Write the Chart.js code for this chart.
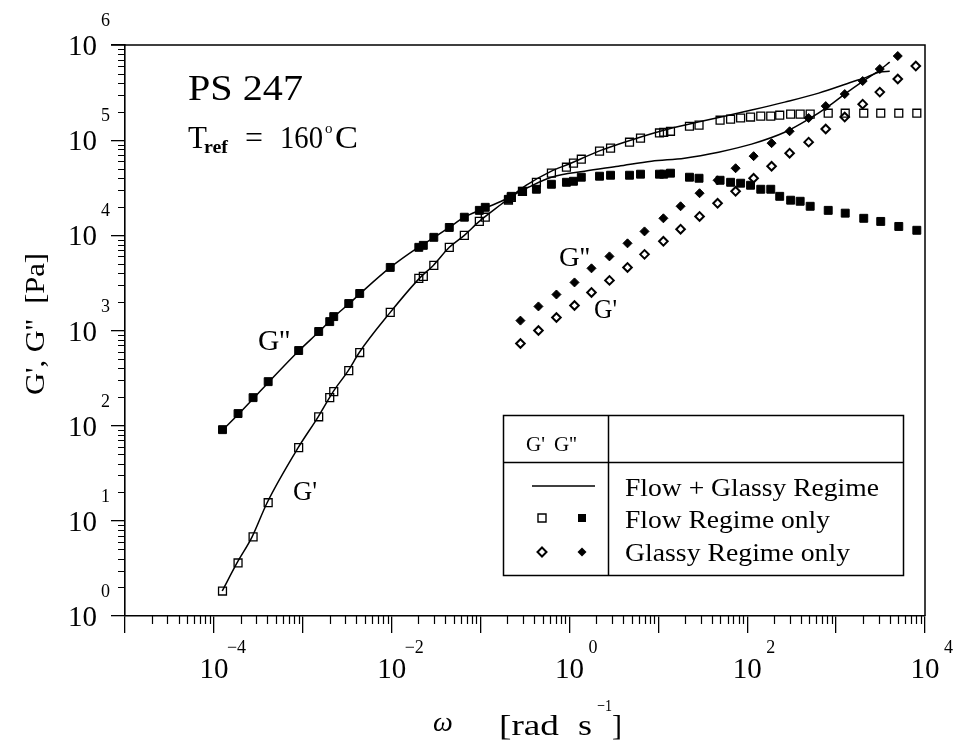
<!DOCTYPE html>
<html>
<head>
<meta charset="utf-8">
<title>PS 247 – G', G'' master curve</title>
<script src="https://cdn.jsdelivr.net/npm/chart.js@4.4.1/dist/chart.umd.min.js"></script>
<style>
  html, body { margin: 0; padding: 0; background: #fff; }
  #wrap { width: 953px; height: 740px; position: relative; }
</style>
</head>
<body>
<div id="wrap"><canvas id="c" width="953" height="740"></canvas></div>
<script>
// ---------------- DATA ----------------
// Flow regime only: shared frequencies for G' (open squares) and G'' (filled squares)
const flowOmega = [1.25e-4, 1.87e-4, 2.76e-4, 4.08e-4, 8.99e-4, 1.51e-3, 2.01e-3, 2.23e-3, 3.29e-3, 4.37e-3,
  9.64e-3, 2.02e-2, 2.27e-2, 2.98e-2, 4.45e-2, 6.57e-2, 9.69e-2, 0.113, 0.206, 0.222,
  0.296, 0.425, 0.627, 0.925, 1.11, 1.36, 2.18, 2.90, 4.74, 6.30,
  10.3, 11.5, 13.7, 22.4, 28.7, 49.5, 65.0, 84.3, 109, 142,
  184, 232, 308, 394, 511, 815, 1266, 2046, 3177, 5070, 8090];
const flowGp = [1.83, 3.61, 6.79, 15.5, 58.7, 124, 197, 228, 379, 587,
  1550, 3530, 3700, 4830, 7480, 1.00e4, 1.40e4, 1.55e4, 2.34e4, 2.51e4,
  2.90e4, 3.61e4, 4.50e4, 5.20e4, 5.73e4, 6.31e4, 7.66e4, 8.24e4, 9.52e4, 1.05e5,
  1.19e5, 1.21e5, 1.24e5, 1.40e5, 1.44e5, 1.62e5, 1.66e5, 1.71e5, 1.75e5, 1.79e5,
  1.79e5, 1.83e5, 1.88e5, 1.88e5, 1.88e5, 1.92e5, 1.92e5, 1.92e5, 1.92e5, 1.92e5, 1.92e5];
const flowGpp = [90.8, 134, 197, 290, 616, 976, 1240, 1400, 1920, 2450,
  4600, 7480, 7850, 9530, 1.21e4, 1.55e4, 1.83e4, 1.97e4, 2.39e4, 2.57e4,
  2.90e4, 3.05e4, 3.44e4, 3.61e4, 3.70e4, 4.08e4, 4.18e4, 4.28e4, 4.28e4, 4.39e4,
  4.39e4, 4.39e4, 4.50e4, 4.08e4, 3.98e4, 3.79e4, 3.61e4, 3.53e4, 3.36e4, 3.05e4,
  3.05e4, 2.57e4, 2.34e4, 2.28e4, 2.02e4, 1.83e4, 1.71e4, 1.51e4, 1.40e4, 1.24e4, 1.13e4];

// Glassy regime only: G' (open diamonds), G'' (filled diamonds)
const glassyOmega = [0.281, 0.448, 0.714, 1.14, 1.77, 2.82, 4.50, 6.99, 11.4, 17.8,
  29.1, 46.4, 74.0, 118, 188, 300, 491, 764, 1250, 1990, 3100, 4940, 7880];
const glassyGp = [730, 1000, 1370, 1830, 2510, 3360, 4600, 6310, 8650, 1.16e4,
  1.58e4, 2.17e4, 2.90e4, 3.98e4, 5.32e4, 7.30e4, 9.53e4, 1.31e5, 1.75e5, 2.39e5,
  3.20e5, 4.39e5, 6.01e5];
const glassyGpp = [1270, 1790, 2390, 3200, 4500, 6010, 8240, 1.10e4, 1.51e4, 2.02e4,
  2.77e4, 3.79e4, 5.07e4, 6.79e4, 9.30e4, 1.24e5, 1.71e5, 2.28e5, 3.05e5, 4.18e5,
  5.59e5, 7.66e5];

// Flow + Glassy regime (solid lines)
const lineGpOmega = [1.24e-4, 1.82e-4, 2.69e-4, 3.97e-4, 8.87e-4, 1.49e-3, 2.20e-3, 3.25e-3, 4.32e-3, 9.64e-3,
  2.05e-2, 2.94e-2, 4.45e-2, 6.57e-2, 9.69e-2, 0.171, 0.328, 0.627, 0.975, 2.29,
  5.40, 13.0, 30.7, 112, 264, 637, 1500, 2210, 3100, 4010];
const lineGp = [1.83, 3.61, 6.79, 15.5, 58.7, 124, 228, 379, 587, 1550,
  3530, 4830, 7480, 1.0e4, 1.40e4, 2.12e4, 3.36e4, 4.72e4, 5.59e4, 7.85e4,
  1.03e5, 1.31e5, 1.58e5, 2.07e5, 2.51e5, 3.12e5, 4.08e5, 4.60e5, 5.2e5, 5.3e5];
const lineGppOmega = [1.27e-4, 1.92e-4, 2.84e-4, 4.18e-4, 9.10e-4, 1.53e-3, 2.26e-3, 3.33e-3, 4.43e-3, 9.64e-3,
  1.99e-2, 3.02e-2, 4.45e-2, 6.57e-2, 9.69e-2, 0.171, 0.345, 0.627, 1.48, 3.56,
  8.38, 19.7, 47.6, 112, 264, 491, 826, 1250, 1940, 3100, 4010];
const lineGpp = [90.8, 134, 197, 290, 616, 976, 1400, 1920, 2450, 4600,
  7480, 9530, 1.21e4, 1.55e4, 1.83e4, 2.28e4, 3.20e4, 4.08e4, 4.72e4, 5.32e4,
  6.01e4, 6.47e4, 7.48e4, 9.08e4, 1.21e5, 1.66e5, 2.28e5, 3.05e5, 4.08e5, 5.46e5, 6.62e5];

// Axes / ticks
const xMin = 1e-5, xMax = 1e4, yMin = 1, yMax = 1e6;
const xMajorTicks = [1e-5, 1e-4, 1e-3, 1e-2, 1e-1, 1, 10, 100, 1000, 1e4];
const yMajorTicks = [1, 10, 100, 1000, 1e4, 1e5, 1e6];
const xLabelExponents = [-4, -2, 0, 2, 4];
const yLabelExponents = [0, 1, 2, 3, 4, 5, 6];
const minorMantissas = [2, 3, 4, 5, 6, 7, 8, 9];

// Texts
const sampleName = 'PS 247';
const xTitleSymbol = 'ω';
const yTitle = "G', G''  [Pa]";
const legendRows = ['Flow + Glassy Regime', 'Flow Regime only', 'Glassy Regime only'];

// ---------------- helpers ----------------
const SERIF = '"Liberation Serif", "Times New Roman", Times, serif';
const pts = (xs, ys) => ys.map((v, i) => ({ x: xs[i], y: v }));

function txt(ctx, s, x, y, size, o = {}) {
  ctx.save();
  ctx.font = (o.italic ? 'italic ' : '') + (o.bold ? 'bold ' : '') + size + 'px ' + SERIF;
  ctx.fillStyle = '#000';
  ctx.textAlign = 'left';
  ctx.textBaseline = 'alphabetic';
  const w = ctx.measureText(s).width;
  const sx = o.w ? o.w / w : 1;
  let left = x;
  if (o.align === 'center') left = x - (w * sx) / 2;
  else if (o.align === 'right') left = x - w * sx;
  ctx.translate(left, y);
  ctx.scale(sx, 1);
  ctx.fillText(s, 0, 0);
  ctx.restore();
}

function marker(ctx, kind, cx, cy) {
  ctx.save();
  ctx.strokeStyle = '#000'; ctx.fillStyle = '#000';
  ctx.beginPath();
  if (kind === 'sq' || kind === 'sqf') {
    ctx.rect(cx - 4, cy - 4, 8, 8);
  } else {
    ctx.moveTo(cx, cy - 4.5); ctx.lineTo(cx + 4.5, cy); ctx.lineTo(cx, cy + 4.5); ctx.lineTo(cx - 4.5, cy); ctx.closePath();
  }
  if (kind === 'sqf' || kind === 'dif') ctx.fill();
  else { ctx.lineWidth = kind === 'di' ? 2 : 1.4; ctx.fillStyle = '#fff'; ctx.fill(); ctx.stroke(); }
  ctx.restore();
}

// ---------------- decoration plugin ----------------
const decor = {
  id: 'decor',
  afterDraw(chart) {
    const { ctx, chartArea: a } = chart;
    const xs = chart.scales.x, ys = chart.scales.y;
    ctx.save();
    ctx.strokeStyle = '#000';
    // top and right frame
    ctx.lineWidth = 1.5;
    ctx.beginPath();
    ctx.moveTo(a.left - 14, a.top); ctx.lineTo(a.right, a.top); ctx.lineTo(a.right, a.bottom);
    ctx.stroke();
    // minor ticks
    ctx.lineWidth = 1.2;
    ctx.beginPath();
    for (let i = 0; i < xMajorTicks.length - 1; i++) {
      minorMantissas.forEach(m => {
        const px = Math.round(xs.getPixelForValue(m * xMajorTicks[i])) + 0.5;
        ctx.moveTo(px, a.bottom); ctx.lineTo(px, a.bottom + 8);
      });
    }
    for (let i = 0; i < yMajorTicks.length - 1; i++) {
      minorMantissas.forEach(m => {
        const py = Math.round(ys.getPixelForValue(m * yMajorTicks[i])) + 0.5;
        ctx.moveTo(a.left, py); ctx.lineTo(a.left - 7, py);
      });
    }
    ctx.stroke();

    // x tick labels
    xLabelExponents.forEach(e => {
      const px = xs.getPixelForValue(Math.pow(10, e));
      txt(ctx, '10', px, 678, 29, { align: 'center' });
      const sup = e < 0 ? '\u2212' + (-e) : String(e);
      txt(ctx, sup, px + (e < 0 ? 13 : 19), 653, 18);
    });
    // y tick labels
    yLabelExponents.forEach(e => {
      const py = ys.getPixelForValue(Math.pow(10, e));
      txt(ctx, '10', 97, py + 10, 29, { align: 'right' });
      txt(ctx, String(e), 101, py - 19, 18);
    });

    // axis titles
    txt(ctx, xTitleSymbol, 433, 731, 28, { italic: true });
    txt(ctx, '[rad', 499, 735, 30, { w: 60 });
    txt(ctx, 's', 578, 735, 30, { w: 14 });
    txt(ctx, '\u22121', 597, 711, 17, { w: 15 });
    txt(ctx, ']', 612, 735, 30);
    ctx.save();
    ctx.translate(44, 324);
    ctx.rotate(-Math.PI / 2);
    txt(ctx, yTitle, 0, 0, 28, { align: 'center', w: 142 });
    ctx.restore();

    // annotations
    txt(ctx, sampleName, 188, 100, 35, { w: 115 });
    txt(ctx, 'T', 188, 148, 31);
    txt(ctx, 'ref', 204, 153, 19, { bold: true, w: 24 });
    txt(ctx, '=', 245, 148, 31, { w: 18 });
    txt(ctx, '160', 280, 148, 31, { w: 43 });
    txt(ctx, 'o', 325, 133, 15);
    txt(ctx, 'C', 335, 148, 31, { w: 23 });

    txt(ctx, "G''", 258, 350, 29, { w: 32 });
    txt(ctx, "G'", 293, 500, 28, { w: 24 });
    txt(ctx, "G''", 559, 266, 28, { w: 31 });
    txt(ctx, "G'", 594, 318, 28, { w: 23 });

    // legend box
    ctx.lineWidth = 1.5;
    ctx.strokeRect(503.5, 415.5, 400, 160);
    ctx.beginPath();
    ctx.moveTo(608.5, 415.5); ctx.lineTo(608.5, 575.5);
    ctx.moveTo(503.5, 462.5); ctx.lineTo(903.5, 462.5);
    ctx.stroke();
    txt(ctx, "G'", 526, 451, 21);
    txt(ctx, "G''", 554, 451, 21);
    ctx.lineWidth = 1.6;
    ctx.beginPath(); ctx.moveTo(532, 486); ctx.lineTo(595, 486); ctx.stroke();
    marker(ctx, 'sq', 542, 518); marker(ctx, 'sqf', 582, 518);
    marker(ctx, 'di', 542, 552); marker(ctx, 'dif', 582, 552);
    txt(ctx, legendRows[0], 625, 496, 26, { w: 254 });
    txt(ctx, legendRows[1], 625, 528, 26, { w: 205 });
    txt(ctx, legendRows[2], 625, 561, 26, { w: 225 });
    ctx.restore();
  }
};

// ---------------- chart ----------------
const axisCommon = {
  type: 'logarithmic',
  ticks: { display: false },
  grid: { display: true, drawOnChartArea: false, drawTicks: true, color: '#000', lineWidth: 1.3 },
  border: { display: true, color: '#000', width: 1.6 }
};

new Chart(document.getElementById('c'), {
  type: 'scatter',
  data: {
    datasets: [
      { label: "G' Flow + Glassy", data: pts(lineGpOmega, lineGp), showLine: true, pointRadius: 0,
        borderColor: '#000', borderWidth: 1.5, cubicInterpolationMode: 'monotone', order: 10 },
      { label: "G'' Flow + Glassy", data: pts(lineGppOmega, lineGpp), showLine: true, pointRadius: 0,
        borderColor: '#000', borderWidth: 1.5, cubicInterpolationMode: 'monotone', order: 10 },
      { label: "G' Flow", data: pts(flowOmega, flowGp), pointStyle: 'rect', pointRadius: 5.6,
        borderColor: '#000', backgroundColor: 'rgba(255,255,255,0)', borderWidth: 1.3, order: 2 },
      { label: "G'' Flow", data: pts(flowOmega, flowGpp), pointStyle: 'rect', pointRadius: 5.6,
        borderColor: '#000', backgroundColor: '#000', borderWidth: 1, order: 1 },
      { label: "G' Glassy", data: pts(glassyOmega, glassyGp), pointStyle: 'rectRot', pointRadius: 4.3,
        borderColor: '#000', backgroundColor: '#fff', borderWidth: 2, order: 2 },
      { label: "G'' Glassy", data: pts(glassyOmega.slice(0, glassyGpp.length), glassyGpp), pointStyle: 'rectRot', pointRadius: 4.5,
        borderColor: '#000', backgroundColor: '#000', borderWidth: 1, order: 1 }
    ]
  },
  options: {
    responsive: false,
    animation: false,
    devicePixelRatio: 1,
    layout: { padding: { left: 0, right: 28, top: 45, bottom: 0 } },
    plugins: { legend: { display: false }, tooltip: { enabled: false } },
    elements: { point: { hoverRadius: 0 } },
    scales: {
      x: Object.assign({}, axisCommon, {
        position: 'bottom', min: xMin, max: xMax,
        grid: Object.assign({}, axisCommon.grid, { tickLength: 17 }),
        afterBuildTicks: s => { s.ticks = xMajorTicks.map(v => ({ value: v, major: true })); },
        afterFit: s => { s.height = 124; }
      }),
      y: Object.assign({}, axisCommon, {
        position: 'left', min: yMin, max: yMax,
        grid: Object.assign({}, axisCommon.grid, { tickLength: 14 }),
        afterBuildTicks: s => { s.ticks = yMajorTicks.map(v => ({ value: v, major: true })); },
        afterFit: s => { s.width = 125; }
      })
    }
  },
  plugins: [decor]
});
</script>
</body>
</html>
